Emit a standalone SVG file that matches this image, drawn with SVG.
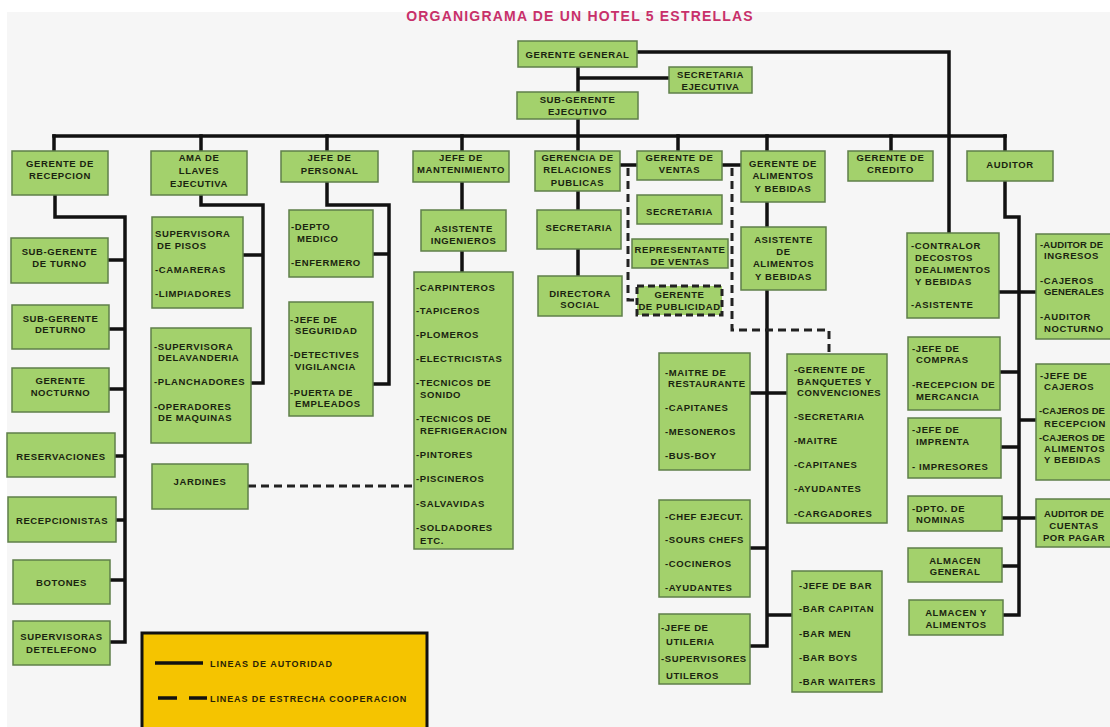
<svg xmlns="http://www.w3.org/2000/svg" width="1110" height="727" viewBox="0 0 1110 727">
<style>
.n rect{fill:#a3d16c;stroke:#5f7f4a;stroke-width:1.5}
.n text,.lg text{font-family:"Liberation Sans",Arial,sans-serif;font-weight:bold;font-size:9.5px;letter-spacing:0.6px;fill:#1a2410}
.n .c{text-anchor:middle}
.n .tight{letter-spacing:0.1px}
.ln{stroke:#111;stroke-width:3.5;fill:none;stroke-linejoin:miter;stroke-linecap:square}
.ds{stroke:#222;stroke-width:3;fill:none;stroke-dasharray:8 5}
.pub rect{stroke:#222;stroke-width:3;stroke-dasharray:7 4}
</style>
<rect x="0" y="0" width="1110" height="727" fill="#ffffff"/>
<rect x="7" y="12" width="1103" height="715" fill="#f6f6f6"/>
<text x="580" y="21" text-anchor="middle" font-family="Liberation Sans, Arial, sans-serif" font-weight="bold" font-size="14" letter-spacing="1.2" fill="#c8306a">ORGANIGRAMA DE UN HOTEL 5 ESTRELLAS</text>

<g id="connectors">
<path class="ln" d="M578,67 V92 M578,78 H669 M637,52 H949 V233 M578,119 V151 M54,136 H1005"/>
<path class="ln" d="M54,136 V151 M201,136 V151 M327,136 V151 M462,136 V151 M678,136 V151 M767,136 V151 M891,136 V151 M1005,136 V151"/>
<path class="ln" d="M620,165 H637 M722,165 H741"/>
<path class="ln" d="M55,195 V217 H125 V642 M108,260 H125 M109,329 H125 M109,389 H125 M115,456 H125 M116,520 H125 M110,580 H125 M110,642 H125"/>
<path class="ln" d="M201,195 V205 H263 V383 M243,255 H263 M251,383 H263"/>
<path class="ln" d="M327,182 V205 H389 V384 M373,254 H389 M373,384 H389"/>
<path class="ln" d="M462,182 V210 M462,251 V272"/>
<path class="ln" d="M578,191 V210 M578,249 V276"/>
<path class="ln" d="M767,202 V227 M767,290 V646 M750,393 H787 M750,548 H767 M767,615 H792 M750,646 H767"/>
<path class="ln" d="M1005,181 V217 H1019 V615 M999,292 H1036 M1000,372 H1019 M1019,420 H1036 M1001,447 H1019 M1002,518 H1036 M1002,566 H1019 M1003,615 H1019"/>
<path class="ds" d="M628,168 V300 H637"/>
<path class="ds" d="M732,168 V330 H829 V354"/>
<path class="ds" d="M248,486 H414"/>
</g>

<g id="gerente-general" class="n"><rect x="518" y="41" width="119" height="26"/><text class="c" x="577.5" y="57.5">GERENTE GENERAL</text></g>
<g id="secretaria-ejecutiva" class="n"><rect x="669" y="67" width="83" height="26"/><text class="c" x="710.5" y="77.5">SECRETARIA</text><text class="c" x="710.5" y="89.5">EJECUTIVA</text></g>
<g id="sub-gerente" class="n"><rect x="517" y="92" width="121" height="27"/><text class="c" x="577.5" y="103">SUB-GERENTE</text><text class="c" x="577.5" y="115">EJECUTIVO</text></g>

<g id="gerente-recepcion" class="n"><rect x="12" y="151" width="96" height="44"/><text class="c" x="60" y="166.5">GERENTE DE</text><text class="c" x="60" y="178.5">RECEPCION</text></g>
<g id="ama-llaves" class="n"><rect x="151" y="151" width="96" height="44"/><text class="c" x="199" y="160.5">AMA DE</text><text class="c" x="199" y="173.5">LLAVES</text><text class="c" x="199" y="186.5">EJECUTIVA</text></g>
<g id="jefe-personal" class="n"><rect x="281" y="151" width="97" height="31"/><text class="c" x="329.5" y="160.5">JEFE DE</text><text class="c" x="329.5" y="173.5">PERSONAL</text></g>
<g id="jefe-mantenimiento" class="n"><rect x="413" y="151" width="96" height="31"/><text class="c" x="461" y="160.5">JEFE DE</text><text class="c" x="461" y="172.5">MANTENIMIENTO</text></g>
<g id="relaciones-publicas" class="n"><rect x="535" y="151" width="85" height="40"/><text class="c" x="577.5" y="160.5">GERENCIA DE</text><text class="c" x="577.5" y="172.5">RELACIONES</text><text class="c" x="577.5" y="185.5">PUBLICAS</text></g>
<g id="gerente-ventas" class="n"><rect x="637" y="151" width="85" height="29"/><text class="c" x="679.5" y="160.5">GERENTE DE</text><text class="c" x="679.5" y="172.5">VENTAS</text></g>
<g id="gerente-alimentos" class="n"><rect x="741" y="151" width="84" height="51"/><text class="c" x="783" y="166.5">GERENTE DE</text><text class="c" x="783" y="178.5">ALIMENTOS</text><text class="c" x="783" y="191.5">Y BEBIDAS</text></g>
<g id="gerente-credito" class="n"><rect x="848" y="151" width="85" height="30"/><text class="c" x="890.5" y="160.5">GERENTE DE</text><text class="c" x="890.5" y="172.5">CREDITO</text></g>
<g id="auditor" class="n"><rect x="967" y="151" width="86" height="30"/><text class="c" x="1010" y="167.5">AUDITOR</text></g>

<g id="sub-gerente-turno-1" class="n"><rect x="11" y="238" width="97" height="45"/><text class="c" x="59.5" y="254.5">SUB-GERENTE</text><text class="c" x="59.5" y="266.5">DE TURNO</text></g>
<g id="sub-gerente-turno-2" class="n"><rect x="12" y="305" width="97" height="44"/><text class="c" x="60.5" y="321.5">SUB-GERENTE</text><text class="c" x="60.5" y="332.5">DETURNO</text></g>
<g id="gerente-nocturno" class="n"><rect x="12" y="368" width="97" height="44"/><text class="c" x="60.5" y="383.5">GERENTE</text><text class="c" x="60.5" y="395.5">NOCTURNO</text></g>
<g id="reservaciones" class="n"><rect x="7" y="433" width="108" height="44"/><text class="c" x="61" y="459.5">RESERVACIONES</text></g>
<g id="recepcionistas" class="n"><rect x="8" y="497" width="108" height="45"/><text class="c" x="62" y="523.5">RECEPCIONISTAS</text></g>
<g id="botones" class="n"><rect x="13" y="560" width="97" height="44"/><text class="c" x="61.5" y="585.5">BOTONES</text></g>
<g id="supervisoras-telefono" class="n"><rect x="13" y="621" width="97" height="44"/><text class="c" x="61.5" y="639.5">SUPERVISORAS</text><text class="c" x="61.5" y="652.5">DETELEFONO</text></g>

<g id="supervisora-pisos" class="n"><rect x="152" y="217" width="91" height="91"/><text x="155" y="236.5">SUPERVISORA</text><text x="157" y="248.5">DE PISOS</text><text x="155" y="272.5">-CAMARERAS</text><text x="155" y="296.5">-LIMPIADORES</text></g>
<g id="supervisora-lavanderia" class="n"><rect x="151" y="328" width="100" height="115"/><text x="154" y="349.5">-SUPERVISORA</text><text x="158" y="360.5">DELAVANDERIA</text><text x="154" y="384.5">-PLANCHADORES</text><text x="154" y="409.5">-OPERADORES</text><text x="158" y="420.5">DE MAQUINAS</text></g>
<g id="jardines" class="n"><rect x="152" y="464" width="96" height="45"/><text class="c" x="200" y="484.5">JARDINES</text></g>

<g id="depto-medico" class="n"><rect x="289" y="210" width="84" height="67"/><text x="291" y="229.5">-DEPTO</text><text x="297" y="241.5">MEDICO</text><text x="291" y="265.5">-ENFERMERO</text></g>
<g id="jefe-seguridad" class="n"><rect x="289" y="302" width="84" height="114"/><text x="290" y="322.5">-JEFE DE</text><text x="295" y="333.5">SEGURIDAD</text><text x="290" y="357.5">-DETECTIVES</text><text x="295" y="369.5">VIGILANCIA</text><text x="290" y="395.5">-PUERTA DE</text><text x="295" y="406.5">EMPLEADOS</text></g>

<g id="asistente-ingenieros" class="n"><rect x="421" y="210" width="85" height="41"/><text class="c" x="463.5" y="231.5">ASISTENTE</text><text class="c" x="463.5" y="243.5">INGENIEROS</text></g>
<g id="personal-mantenimiento" class="n"><rect x="414" y="272" width="99" height="277"/><text x="416" y="290.5">-CARPINTEROS</text><text x="416" y="313.5">-TAPICEROS</text><text x="416" y="337.5">-PLOMEROS</text><text x="416" y="361.5">-ELECTRICISTAS</text><text x="416" y="385.5">-TECNICOS DE</text><text x="420" y="397.5">SONIDO</text><text x="416" y="421.5">-TECNICOS DE</text><text x="420" y="433.5">REFRIGERACION</text><text x="416" y="457.5">-PINTORES</text><text x="416" y="481.5">-PISCINEROS</text><text x="416" y="506.5">-SALVAVIDAS</text><text x="416" y="530.5">-SOLDADORES</text><text x="420" y="543.5">ETC.</text></g>

<g id="secretaria-rp" class="n"><rect x="537" y="210" width="84" height="39"/><text class="c" x="579" y="230.5">SECRETARIA</text></g>
<g id="directora-social" class="n"><rect x="538" y="276" width="84" height="40"/><text class="c" x="580" y="296.5">DIRECTORA</text><text class="c" x="580" y="307.5">SOCIAL</text></g>

<g id="secretaria-ventas" class="n"><rect x="637" y="195" width="85" height="29"/><text class="c" x="679.5" y="214.5">SECRETARIA</text></g>
<g id="representante-ventas" class="n"><rect x="632" y="239" width="96" height="29"/><text class="c" x="680" y="252.5">REPRESENTANTE</text><text class="c" x="680" y="264.5">DE VENTAS</text></g>
<g id="gerente-publicidad" class="n pub"><rect x="637" y="286" width="85" height="29"/><text class="c" x="679.5" y="297.5">GERENTE</text><text class="c" x="679.5" y="309.5">DE PUBLICIDAD</text></g>

<g id="asistente-alimentos" class="n"><rect x="741" y="227" width="85" height="63"/><text class="c" x="783.5" y="242.5">ASISTENTE</text><text class="c" x="783.5" y="254.5">DE</text><text class="c" x="783.5" y="266.5">ALIMENTOS</text><text class="c" x="783.5" y="279.5">Y BEBIDAS</text></g>
<g id="maitre-restaurante" class="n"><rect x="659" y="353" width="91" height="117"/><text x="665" y="375.5">-MAITRE DE</text><text x="668" y="386.5">RESTAURANTE</text><text x="665" y="410.5">-CAPITANES</text><text x="665" y="434.5">-MESONEROS</text><text x="665" y="458.5">-BUS-BOY</text></g>
<g id="gerente-banquetes" class="n"><rect x="787" y="354" width="100" height="169"/><text x="794" y="372.5">-GERENTE DE</text><text x="797" y="384.5">BANQUETES Y</text><text x="797" y="395.5">CONVENCIONES</text><text x="794" y="419.5">-SECRETARIA</text><text x="794" y="443.5">-MAITRE</text><text x="794" y="467.5">-CAPITANES</text><text x="794" y="491.5">-AYUDANTES</text><text x="794" y="516.5">-CARGADORES</text></g>
<g id="chef-ejecutivo" class="n"><rect x="659" y="500" width="91" height="97"/><text x="665" y="519.5">-CHEF EJECUT.</text><text x="665" y="542.5">-SOURS CHEFS</text><text x="665" y="566.5">-COCINEROS</text><text x="665" y="590.5">-AYUDANTES</text></g>
<g id="jefe-utileria" class="n"><rect x="659" y="614" width="91" height="70"/><text x="661" y="630.5">-JEFE DE</text><text x="666" y="644.5">UTILERIA</text><text x="661" y="661.5">-SUPERVISORES</text><text x="666" y="678.5">UTILEROS</text></g>
<g id="jefe-bar" class="n"><rect x="792" y="571" width="90" height="121"/><text x="799" y="588.5">-JEFE DE BAR</text><text x="799" y="611.5">-BAR CAPITAN</text><text x="799" y="636.5">-BAR MEN</text><text x="799" y="660.5">-BAR BOYS</text><text x="799" y="684.5">-BAR WAITERS</text></g>

<g id="contralor" class="n"><rect x="907" y="233" width="92" height="85"/><text x="911" y="248.5">-CONTRALOR</text><text x="915" y="260.5">DECOSTOS</text><text x="915" y="272.5">DEALIMENTOS</text><text x="915" y="284.5">Y BEBIDAS</text><text x="911" y="307.5">-ASISTENTE</text></g>
<g id="jefe-compras" class="n"><rect x="908" y="337" width="92" height="73"/><text x="912" y="351.5">-JEFE DE</text><text x="916" y="362.5">COMPRAS</text><text x="912" y="387.5">-RECEPCION DE</text><text x="916" y="399.5">MERCANCIA</text></g>
<g id="jefe-imprenta" class="n"><rect x="908" y="418" width="93" height="60"/><text x="912" y="432.5">-JEFE DE</text><text x="916" y="444.5">IMPRENTA</text><text x="912" y="469.5">- IMPRESORES</text></g>
<g id="dpto-nominas" class="n"><rect x="908" y="496" width="94" height="35"/><text x="912" y="511.5">-DPTO. DE</text><text x="916" y="522.5">NOMINAS</text></g>
<g id="almacen-general" class="n"><rect x="908" y="548" width="94" height="34"/><text class="c" x="955" y="563.5">ALMACEN</text><text class="c" x="955" y="574.5">GENERAL</text></g>
<g id="almacen-alimentos" class="n"><rect x="909" y="600" width="94" height="35"/><text class="c" x="956" y="615.5">ALMACEN Y</text><text class="c" x="956" y="627.5">ALIMENTOS</text></g>
<g id="auditor-ingresos" class="n"><rect x="1036" y="234" width="80" height="105"/><text class="tight" x="1040" y="247.5">-AUDITOR DE</text><text x="1044" y="258.5">INGRESOS</text><text x="1040" y="283.5">-CAJEROS</text><text class="tight" x="1044" y="294.5">GENERALES</text><text x="1040" y="319.5">-AUDITOR</text><text x="1044" y="331.5">NOCTURNO</text></g>
<g id="jefe-cajeros" class="n"><rect x="1036" y="364" width="80" height="116"/><text x="1040" y="378.5">-JEFE DE</text><text x="1044" y="389.5">CAJEROS</text><text class="tight" x="1039" y="413.5">-CAJEROS DE</text><text x="1044" y="426.5">RECEPCION</text><text class="tight" x="1039" y="440.5">-CAJEROS DE</text><text x="1044" y="451.5">ALIMENTOS</text><text x="1044" y="462.5">Y BEBIDAS</text></g>
<g id="auditor-cuentas" class="n"><rect x="1036" y="499" width="80" height="48"/><text class="c tight" x="1074" y="516.5">AUDITOR DE</text><text class="c" x="1074" y="528.5">CUENTAS</text><text class="c" x="1074" y="540.5">POR PAGAR</text></g>

<g id="leyenda" class="lg">
<rect x="142" y="633" width="285" height="110" fill="#f5c400" stroke="#111" stroke-width="3"/>
<path d="M155,663 H203" stroke="#111" stroke-width="3.5"/>
<path d="M158,698 H177 M189,698 H207" stroke="#111" stroke-width="3.5"/>
<text x="210" y="666.5" style="font-size:9px;letter-spacing:1px;fill:#2a2206">LINEAS DE AUTORIDAD</text>
<text x="210" y="701.5" style="font-size:9px;letter-spacing:0.9px;fill:#2a2206">LINEAS DE ESTRECHA COOPERACION</text>
</g>
</svg>
